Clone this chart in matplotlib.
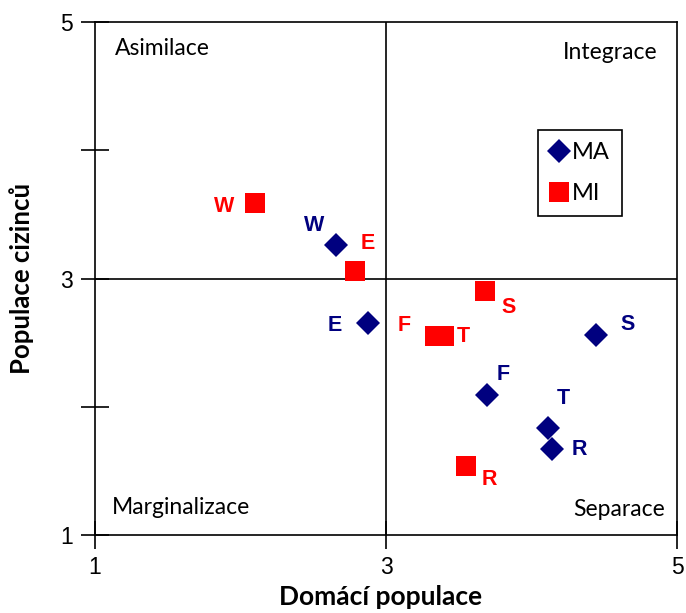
import matplotlib
matplotlib.use("Agg")
import matplotlib.pyplot as plt
from matplotlib.lines import Line2D

# Data
labels = ["W", "E", "S", "F", "T", "R"]
ma_x = [2.656, 2.876, 4.443, 3.694, 4.113, 4.141]
ma_y = [3.265, 2.657, 2.563, 2.088, 1.838, 1.674]
mi_x = [2.100, 2.787, 3.680, 3.337, 3.400, 3.550]
mi_y = [3.585, 3.055, 2.906, 2.548, 2.548, 1.542]
series_names = ["MA", "MI"]
quadrants = ["Asimilace", "Integrace", "Marginalizace", "Separace"]
ticks = [1, 3, 5]
minor_yticks = [2, 4]

navy = "#00007F"
red = "#FF0000"

fig = plt.figure(figsize=(6.86, 6.13), dpi=100)
ax = fig.add_axes([0.1385, 0.1272, 0.8484, 0.8369])
ax.set_xlim(1, 5)
ax.set_ylim(1, 5)

for s in ax.spines.values():
    s.set_linewidth(1.2)
    s.set_color("black")

ax.axvline(3, color="black", lw=1.2, zorder=1)
ax.axhline(3, color="black", lw=1.2, zorder=1)

ax.set_xticks(ticks)
ax.set_yticks(ticks)
ax.set_yticks(minor_yticks, minor=True)
ax.tick_params(axis="both", which="both", direction="inout", length=20, width=1.2,
               labelsize=16.5, colors="black")
ax.tick_params(axis="x", pad=5)
ax.tick_params(axis="y", pad=6)
for lab in ax.get_xticklabels() + ax.get_yticklabels():
    lab.set_fontfamily("Liberation Sans")

ax.set_xlabel("Domácí populace", fontsize=19, fontweight="bold", family="Lato")
ax.xaxis.set_label_coords(0.49, -0.098)
ax.set_ylabel("Populace cizinců", fontsize=18.5, fontweight="bold", family="Lato", labelpad=19)

ax.plot(ma_x, ma_y, linestyle="none", marker="D", markersize=12, color=navy,
        markeredgewidth=0, zorder=3)
ax.plot(mi_x, mi_y, linestyle="none", marker="s", markersize=15, color=red,
        markeredgewidth=0, zorder=3)

# label offsets in points
ma_off = [(-16, 14), (-24, -2), (23, 7), (12, 15), (11, 21), (20, -1)]
mi_off = [(-22, -2), (9, 20), (17, -12), (-22, 8), (14, 0), (17, -10)]
lkw = dict(fontsize=15.5, fontweight="bold", family="Liberation Sans",
           ha="center", va="center", textcoords="offset points")
for i, lab in enumerate(labels):
    ax.annotate(lab, (ma_x[i], ma_y[i]), xytext=ma_off[i], color=navy, **lkw)
    ax.annotate(lab, (mi_x[i], mi_y[i]), xytext=mi_off[i], color=red, **lkw)

qkw = dict(fontsize=16.5, family="Lato", transform=ax.transAxes, va="center")
ax.text(0.034, 0.949, quadrants[0], ha="left", **qkw)
ax.text(0.966, 0.940, quadrants[1], ha="right", **qkw)
ax.text(0.029, 0.053, quadrants[2], ha="left", **qkw)
ax.text(0.979, 0.049, quadrants[3], ha="right", **qkw)

handles = [Line2D([], [], linestyle="none", marker="D", markersize=12, color=navy, markeredgewidth=0),
           Line2D([], [], linestyle="none", marker="s", markersize=15, color=red, markeredgewidth=0)]
leg = ax.legend(handles, series_names, loc="upper left", bbox_to_anchor=(0.761, 0.789),
                frameon=True, fancybox=False, edgecolor="black", framealpha=1,
                prop={"family": "Lato", "size": 17}, handlelength=0.8,
                handletextpad=0.15, labelspacing=0.85, borderpad=0.5, borderaxespad=0)
leg.get_frame().set_linewidth(1.2)

fig.savefig("out.png", dpi=100)
